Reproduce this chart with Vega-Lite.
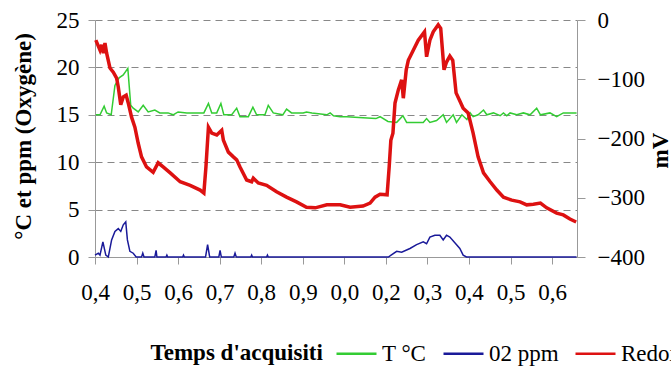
{
  "$schema": "https://vega.github.io/schema/vega-lite/v6.json",
  "width": 482,
  "height": 237,
  "autosize": {"type": "none"},
  "padding": {"left": 95, "top": 20, "right": 94, "bottom": 110},
  "background": "white",
  "config": {
    "view": {"stroke": null},
    "axis": {"labelColor": "black", "titleColor": "black", "labelFontSize": 23, "titleFontSize": 23, "domainColor": "#999999", "tickColor": "#999999", "tickSize": 7}
  },
  "datasets": {
    "series": [
      {"t": 0.02, "s": "T °C", "v": 15.0}, {"t": 0.12, "s": "T °C", "v": 15.0}, {"t": 0.22, "s": "T °C", "v": 15.9}, {"t": 0.28, "s": "T °C", "v": 15.2}, {"t": 0.39, "s": "T °C", "v": 15.0}, {"t": 0.48, "s": "T °C", "v": 18.1}, {"t": 0.58, "s": "T °C", "v": 18.9}, {"t": 0.68, "s": "T °C", "v": 19.2}, {"t": 0.79, "s": "T °C", "v": 19.9}, {"t": 0.86, "s": "T °C", "v": 16.0}, {"t": 0.92, "s": "T °C", "v": 15.7}, {"t": 1.04, "s": "T °C", "v": 15.3}, {"t": 1.16, "s": "T °C", "v": 16.0}, {"t": 1.28, "s": "T °C", "v": 15.3}, {"t": 1.44, "s": "T °C", "v": 15.5}, {"t": 1.56, "s": "T °C", "v": 15.2}, {"t": 1.76, "s": "T °C", "v": 15.2}, {"t": 1.88, "s": "T °C", "v": 15.0}, {"t": 2.0, "s": "T °C", "v": 15.3}, {"t": 2.21, "s": "T °C", "v": 15.2}, {"t": 2.53, "s": "T °C", "v": 15.2}, {"t": 2.62, "s": "T °C", "v": 15.2}, {"t": 2.73, "s": "T °C", "v": 16.2}, {"t": 2.81, "s": "T °C", "v": 15.2}, {"t": 2.93, "s": "T °C", "v": 15.2}, {"t": 3.03, "s": "T °C", "v": 16.2}, {"t": 3.1, "s": "T °C", "v": 15.0}, {"t": 3.29, "s": "T °C", "v": 15.0}, {"t": 3.41, "s": "T °C", "v": 15.7}, {"t": 3.49, "s": "T °C", "v": 14.8}, {"t": 3.69, "s": "T °C", "v": 14.8}, {"t": 3.8, "s": "T °C", "v": 15.8}, {"t": 3.89, "s": "T °C", "v": 15.0}, {"t": 4.09, "s": "T °C", "v": 15.0}, {"t": 4.17, "s": "T °C", "v": 16.0}, {"t": 4.29, "s": "T °C", "v": 15.2}, {"t": 4.52, "s": "T °C", "v": 15.0}, {"t": 4.61, "s": "T °C", "v": 15.6}, {"t": 4.73, "s": "T °C", "v": 15.2}, {"t": 5.01, "s": "T °C", "v": 15.2}, {"t": 5.09, "s": "T °C", "v": 15.3}, {"t": 5.22, "s": "T °C", "v": 15.2}, {"t": 5.58, "s": "T °C", "v": 15.0}, {"t": 5.66, "s": "T °C", "v": 15.2}, {"t": 5.74, "s": "T °C", "v": 14.9}, {"t": 5.9, "s": "T °C", "v": 14.8}, {"t": 6.06, "s": "T °C", "v": 14.8}, {"t": 6.45, "s": "T °C", "v": 14.7}, {"t": 6.76, "s": "T °C", "v": 14.6}, {"t": 6.86, "s": "T °C", "v": 14.8}, {"t": 7.05, "s": "T °C", "v": 14.3}, {"t": 7.26, "s": "T °C", "v": 14.2}, {"t": 7.41, "s": "T °C", "v": 14.9}, {"t": 7.5, "s": "T °C", "v": 14.2}, {"t": 7.9, "s": "T °C", "v": 14.2}, {"t": 7.98, "s": "T °C", "v": 14.6}, {"t": 8.06, "s": "T °C", "v": 14.2}, {"t": 8.22, "s": "T °C", "v": 14.4}, {"t": 8.38, "s": "T °C", "v": 15.0}, {"t": 8.46, "s": "T °C", "v": 14.2}, {"t": 8.62, "s": "T °C", "v": 15.0}, {"t": 8.7, "s": "T °C", "v": 14.2}, {"t": 8.83, "s": "T °C", "v": 15.0}, {"t": 8.95, "s": "T °C", "v": 14.5}, {"t": 9.03, "s": "T °C", "v": 15.2}, {"t": 9.1, "s": "T °C", "v": 14.8}, {"t": 9.22, "s": "T °C", "v": 15.0}, {"t": 9.35, "s": "T °C", "v": 15.5}, {"t": 9.43, "s": "T °C", "v": 15.0}, {"t": 9.59, "s": "T °C", "v": 15.2}, {"t": 9.75, "s": "T °C", "v": 14.9}, {"t": 9.83, "s": "T °C", "v": 15.2}, {"t": 9.91, "s": "T °C", "v": 14.9}, {"t": 9.99, "s": "T °C", "v": 15.2}, {"t": 10.15, "s": "T °C", "v": 15.0}, {"t": 10.31, "s": "T °C", "v": 15.2}, {"t": 10.47, "s": "T °C", "v": 15.0}, {"t": 10.63, "s": "T °C", "v": 15.7}, {"t": 10.72, "s": "T °C", "v": 15.0}, {"t": 10.95, "s": "T °C", "v": 15.2}, {"t": 11.11, "s": "T °C", "v": 14.8}, {"t": 11.27, "s": "T °C", "v": 15.2}, {"t": 11.59, "s": "T °C", "v": 15.2},

      {"t": 0.0, "s": "02 ppm", "v": 0.2}, {"t": 0.08, "s": "02 ppm", "v": 0.4}, {"t": 0.12, "s": "02 ppm", "v": 0.2}, {"t": 0.19, "s": "02 ppm", "v": 1.6}, {"t": 0.26, "s": "02 ppm", "v": 0.2}, {"t": 0.32, "s": "02 ppm", "v": 0.0}, {"t": 0.4, "s": "02 ppm", "v": 1.8}, {"t": 0.48, "s": "02 ppm", "v": 2.7}, {"t": 0.56, "s": "02 ppm", "v": 3.0}, {"t": 0.62, "s": "02 ppm", "v": 2.7}, {"t": 0.68, "s": "02 ppm", "v": 3.4}, {"t": 0.74, "s": "02 ppm", "v": 3.7}, {"t": 0.78, "s": "02 ppm", "v": 1.8}, {"t": 0.84, "s": "02 ppm", "v": 0.6}, {"t": 0.92, "s": "02 ppm", "v": 0.4}, {"t": 0.99, "s": "02 ppm", "v": 0.0},
      {"t": 1.12, "s": "02 ppm", "v": 0.0}, {"t": 1.15, "s": "02 ppm", "v": 0.4}, {"t": 1.18, "s": "02 ppm", "v": 0.0},
      {"t": 1.44, "s": "02 ppm", "v": 0.0}, {"t": 1.47, "s": "02 ppm", "v": 0.7}, {"t": 1.49, "s": "02 ppm", "v": 0.0},
      {"t": 1.71, "s": "02 ppm", "v": 0.0}, {"t": 1.73, "s": "02 ppm", "v": 0.2}, {"t": 1.75, "s": "02 ppm", "v": 0.0},
      {"t": 2.11, "s": "02 ppm", "v": 0.0}, {"t": 2.13, "s": "02 ppm", "v": 0.2}, {"t": 2.15, "s": "02 ppm", "v": 0.0},
      {"t": 2.66, "s": "02 ppm", "v": 0.0}, {"t": 2.71, "s": "02 ppm", "v": 1.3}, {"t": 2.76, "s": "02 ppm", "v": 0.0},
      {"t": 2.98, "s": "02 ppm", "v": 0.0}, {"t": 3.01, "s": "02 ppm", "v": 0.7}, {"t": 3.04, "s": "02 ppm", "v": 0.0},
      {"t": 3.34, "s": "02 ppm", "v": 0.0}, {"t": 3.37, "s": "02 ppm", "v": 0.4}, {"t": 3.4, "s": "02 ppm", "v": 0.0},
      {"t": 3.75, "s": "02 ppm", "v": 0.0}, {"t": 3.77, "s": "02 ppm", "v": 0.2}, {"t": 3.79, "s": "02 ppm", "v": 0.0},
      {"t": 4.13, "s": "02 ppm", "v": 0.0}, {"t": 4.15, "s": "02 ppm", "v": 0.2}, {"t": 4.17, "s": "02 ppm", "v": 0.0},
      {"t": 7.06, "s": "02 ppm", "v": 0.0}, {"t": 7.26, "s": "02 ppm", "v": 0.6}, {"t": 7.38, "s": "02 ppm", "v": 0.5}, {"t": 7.58, "s": "02 ppm", "v": 0.9}, {"t": 7.74, "s": "02 ppm", "v": 1.3}, {"t": 7.9, "s": "02 ppm", "v": 1.6}, {"t": 7.98, "s": "02 ppm", "v": 1.4}, {"t": 8.06, "s": "02 ppm", "v": 2.1}, {"t": 8.18, "s": "02 ppm", "v": 2.3}, {"t": 8.3, "s": "02 ppm", "v": 2.3}, {"t": 8.38, "s": "02 ppm", "v": 1.8}, {"t": 8.46, "s": "02 ppm", "v": 2.3}, {"t": 8.54, "s": "02 ppm", "v": 2.1}, {"t": 8.66, "s": "02 ppm", "v": 1.5}, {"t": 8.78, "s": "02 ppm", "v": 0.9}, {"t": 8.86, "s": "02 ppm", "v": 0.2}, {"t": 8.94, "s": "02 ppm", "v": 0.0}, {"t": 11.59, "s": "02 ppm", "v": 0.0},

      {"t": 0.02, "s": "Redox", "v": -34}, {"t": 0.12, "s": "Redox", "v": -51}, {"t": 0.16, "s": "Redox", "v": -42}, {"t": 0.2, "s": "Redox", "v": -56}, {"t": 0.24, "s": "Redox", "v": -39}, {"t": 0.28, "s": "Redox", "v": -56}, {"t": 0.36, "s": "Redox", "v": -81}, {"t": 0.44, "s": "Redox", "v": -88}, {"t": 0.52, "s": "Redox", "v": -98}, {"t": 0.56, "s": "Redox", "v": -113}, {"t": 0.62, "s": "Redox", "v": -143}, {"t": 0.68, "s": "Redox", "v": -130}, {"t": 0.75, "s": "Redox", "v": -127}, {"t": 0.8, "s": "Redox", "v": -140}, {"t": 0.88, "s": "Redox", "v": -164}, {"t": 0.96, "s": "Redox", "v": -181}, {"t": 1.04, "s": "Redox", "v": -208}, {"t": 1.12, "s": "Redox", "v": -231}, {"t": 1.24, "s": "Redox", "v": -248}, {"t": 1.4, "s": "Redox", "v": -257}, {"t": 1.52, "s": "Redox", "v": -241}, {"t": 1.64, "s": "Redox", "v": -248}, {"t": 1.81, "s": "Redox", "v": -258}, {"t": 2.05, "s": "Redox", "v": -273}, {"t": 2.29, "s": "Redox", "v": -279}, {"t": 2.53, "s": "Redox", "v": -287}, {"t": 2.62, "s": "Redox", "v": -292}, {"t": 2.67, "s": "Redox", "v": -248}, {"t": 2.73, "s": "Redox", "v": -181}, {"t": 2.81, "s": "Redox", "v": -191}, {"t": 2.93, "s": "Redox", "v": -194}, {"t": 3.05, "s": "Redox", "v": -186}, {"t": 3.09, "s": "Redox", "v": -203}, {"t": 3.21, "s": "Redox", "v": -223}, {"t": 3.33, "s": "Redox", "v": -231}, {"t": 3.41, "s": "Redox", "v": -236}, {"t": 3.49, "s": "Redox", "v": -248}, {"t": 3.65, "s": "Redox", "v": -270}, {"t": 3.77, "s": "Redox", "v": -273}, {"t": 3.81, "s": "Redox", "v": -267}, {"t": 3.93, "s": "Redox", "v": -275}, {"t": 4.13, "s": "Redox", "v": -279}, {"t": 4.37, "s": "Redox", "v": -290}, {"t": 4.61, "s": "Redox", "v": -299}, {"t": 4.85, "s": "Redox", "v": -307}, {"t": 5.09, "s": "Redox", "v": -316}, {"t": 5.3, "s": "Redox", "v": -317}, {"t": 5.58, "s": "Redox", "v": -312}, {"t": 5.9, "s": "Redox", "v": -312}, {"t": 6.14, "s": "Redox", "v": -316}, {"t": 6.45, "s": "Redox", "v": -314}, {"t": 6.62, "s": "Redox", "v": -309}, {"t": 6.74, "s": "Redox", "v": -299}, {"t": 6.86, "s": "Redox", "v": -294}, {"t": 7.03, "s": "Redox", "v": -295}, {"t": 7.08, "s": "Redox", "v": -248}, {"t": 7.12, "s": "Redox", "v": -203}, {"t": 7.17, "s": "Redox", "v": -191}, {"t": 7.22, "s": "Redox", "v": -140}, {"t": 7.3, "s": "Redox", "v": -118}, {"t": 7.38, "s": "Redox", "v": -101}, {"t": 7.42, "s": "Redox", "v": -132}, {"t": 7.49, "s": "Redox", "v": -84}, {"t": 7.54, "s": "Redox", "v": -68}, {"t": 7.66, "s": "Redox", "v": -51}, {"t": 7.78, "s": "Redox", "v": -34}, {"t": 7.93, "s": "Redox", "v": -20}, {"t": 7.98, "s": "Redox", "v": -62}, {"t": 8.06, "s": "Redox", "v": -34}, {"t": 8.14, "s": "Redox", "v": -20}, {"t": 8.26, "s": "Redox", "v": -8}, {"t": 8.32, "s": "Redox", "v": -14}, {"t": 8.4, "s": "Redox", "v": -84}, {"t": 8.46, "s": "Redox", "v": -71}, {"t": 8.54, "s": "Redox", "v": -61}, {"t": 8.61, "s": "Redox", "v": -68}, {"t": 8.69, "s": "Redox", "v": -123}, {"t": 8.77, "s": "Redox", "v": -135}, {"t": 8.86, "s": "Redox", "v": -149}, {"t": 8.98, "s": "Redox", "v": -157}, {"t": 9.1, "s": "Redox", "v": -191}, {"t": 9.22, "s": "Redox", "v": -231}, {"t": 9.35, "s": "Redox", "v": -258}, {"t": 9.51, "s": "Redox", "v": -273}, {"t": 9.67, "s": "Redox", "v": -287}, {"t": 9.83, "s": "Redox", "v": -299}, {"t": 10.03, "s": "Redox", "v": -304}, {"t": 10.23, "s": "Redox", "v": -307}, {"t": 10.39, "s": "Redox", "v": -312}, {"t": 10.55, "s": "Redox", "v": -311}, {"t": 10.72, "s": "Redox", "v": -309}, {"t": 10.87, "s": "Redox", "v": -317}, {"t": 11.11, "s": "Redox", "v": -326}, {"t": 11.27, "s": "Redox", "v": -329}, {"t": 11.43, "s": "Redox", "v": -336}, {"t": 11.58, "s": "Redox", "v": -341}
    ]
  },
  "data": {"name": "series"},
  "encoding": {
    "x": {
      "field": "t", "type": "quantitative",
      "scale": {"domain": [0, 11.6], "nice": false, "zero": false},
      "axis": {
        "values": [0, 1, 2, 3, 4, 5, 6, 7, 8, 9, 10, 11],
        "labelExpr": "['0,4','0,5','0,6','0,7','0,8','0,9','0,0','0,2','0,3','0,4','0,5','0,6'][datum.value]",
        "labelFont": "Liberation Serif", "labelFontSize": 23, "labelColor": "black",
        "encode": {"labels": {"update": {"font": {"value": "Liberation Serif"}, "fontSize": {"value": 23}}}},
        "grid": false, "tickSize": 7, "labelPadding": 17, "labelFlush": false,
        "title": "Temps d'acquisiti", "titleFont": "Liberation Serif", "titleFontWeight": "bold", "titleX": 55, "titleY": 102, "titleAlign": "left", "titleBaseline": "alphabetic", "titleAnchor": null
      }
    },
    "color": {
      "field": "s", "type": "nominal",
      "scale": {"domain": ["T °C", "02 ppm", "Redox"], "range": ["#33cc33", "#1a1a99", "#dd1111"]},
      "legend": {"title": null, "orient": "none", "direction": "horizontal", "legendX": 240, "legendY": 312, "symbolType": "stroke", "symbolSize": 1600, "symbolStrokeWidth": 2.5, "labelOffset": 4, "columnPadding": 11, "labelFont": "Liberation Serif", "labelFontSize": 23, "labelColor": "black",
        "encode": {"labels": {"update": {"font": {"value": "Liberation Serif"}, "fontSize": {"value": 23}}}}}
    }
  },
  "layer": [
    {
      "transform": [{"filter": "datum.s !== 'Redox'"}],
      "mark": {"type": "line", "strokeWidth": 1.5, "interpolate": "linear"},
      "encoding": {
        "detail": {"field": "s"},
        "y": {
          "field": "v", "type": "quantitative",
          "scale": {"domain": [0, 25], "nice": false},
          "axis": {
            "values": [0, 5, 10, 15, 20, 25], "grid": true, "gridDash": [7, 5], "gridColor": "#888888", "gridWidth": 1.2,
            "labelFont": "Liberation Serif", "labelFontSize": 23, "labelColor": "black",
            "encode": {"labels": {"update": {"font": {"value": "Liberation Serif"}, "fontSize": {"value": 23}}}},
            "labelPadding": 9, "title": "°C et ppm (Oxygène)", "titleFont": "Liberation Serif", "titleFontWeight": "bold", "titleAngle": 270,
            "titleX": -72, "titleY": 116, "titleAlign": "center", "titleBaseline": "middle"
          }
        }
      }
    },
    {
      "transform": [{"filter": "datum.s === 'Redox'"}],
      "mark": {"type": "line", "strokeWidth": 3.5, "interpolate": "linear"},
      "encoding": {
        "y": {
          "field": "v", "type": "quantitative",
          "scale": {"domain": [-400, 0], "nice": false},
          "axis": {
            "orient": "right", "values": [0, -100, -200, -300, -400], "grid": false, "tickSize": 8,
            "labelFont": "Liberation Serif", "labelFontSize": 23, "labelColor": "black",
            "encode": {"labels": {"update": {"font": {"value": "Liberation Serif"}, "fontSize": {"value": 23}}}},
            "labelPadding": 12, "title": "mV", "titleFont": "Liberation Serif", "titleFontWeight": "bold", "titleAngle": 270,
            "titleX": 83, "titleY": 130, "titleAlign": "center", "titleBaseline": "middle"
          }
        }
      }
    }
  ],
  "resolve": {"scale": {"y": "independent"}}
}
